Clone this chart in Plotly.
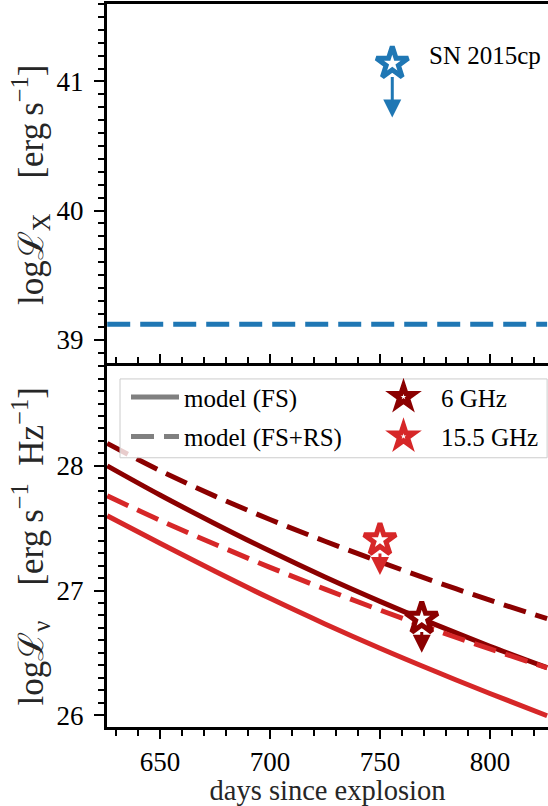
import plotly.graph_objects as go
from plotly.subplots import make_subplots

# ---- model light curves (days since explosion) ----
model_days = [626, 650, 675, 700, 725, 750, 775, 800, 826]

# X-ray luminosity of the FS+RS model, log L_X [erg/s]
xray_fsrs = [39.12, 39.12, 39.12, 39.12, 39.12, 39.12, 39.12, 39.12, 39.12]

# radio spectral luminosity, log L_nu [erg/s/Hz]
fs_6ghz = [28.00, 27.766, 27.536, 27.316, 27.108, 26.913, 26.728, 26.553, 26.381]
fsrs_6ghz = [28.18, 27.962, 27.757, 27.57, 27.395, 27.23, 27.072, 26.922, 26.774]
fs_15ghz = [27.60, 27.379, 27.154, 26.937, 26.732, 26.537, 26.352, 26.174, 25.995]
fsrs_15ghz = [27.76, 27.563, 27.371, 27.186, 27.011, 26.843, 26.683, 26.531, 26.380]

# ---- SN 2015cp upper limits (value, and where the limit arrow ends) ----
xray_day = [755.6]
xray_limit = [41.14]
xray_arrow_end = [40.72]

radio6_day = [769.0]
radio6_limit = [26.775]
radio6_arrow_end = [26.50]

radio15_day = [750.0]
radio15_limit = [27.405]
radio15_arrow_end = [27.125]

BLUE = "#1f77b4"
DARKRED = "#8b0000"
RED = "#d62728"
GREY = "#808080"
DASH = "23px,10px"
SERIF = "Liberation Serif"
STAR = dict(symbol="star", size=24, color="white")

fig = make_subplots(rows=2, cols=1, shared_xaxes=True, vertical_spacing=0)

# top panel: X-ray
fig.add_trace(go.Scatter(x=model_days, y=xray_fsrs, mode="lines",
                         line=dict(color=BLUE, width=5, dash=DASH),
                         showlegend=False, hoverinfo="skip"), row=1, col=1)
fig.add_trace(go.Scatter(x=xray_day, y=xray_limit, mode="markers",
                         marker=dict(**STAR, line=dict(color=BLUE, width=5)),
                         showlegend=False), row=1, col=1)

# bottom panel: radio models
for ys, col, dash in [(fs_6ghz, DARKRED, "solid"), (fsrs_6ghz, DARKRED, DASH),
                      (fs_15ghz, RED, "solid"), (fsrs_15ghz, RED, DASH)]:
    fig.add_trace(go.Scatter(x=model_days, y=ys, mode="lines", line_shape="spline",
                             line=dict(color=col, width=5, dash=dash),
                             showlegend=False, hoverinfo="skip"), row=2, col=1)

# legend-only entries for the model line styles
fig.add_trace(go.Scatter(x=[None], y=[None], mode="lines", name="model (FS)",
                         line=dict(color=GREY, width=5), legend="legend",
                         legendgroup="fs"), row=2, col=1)
fig.add_trace(go.Scatter(x=[None], y=[None], mode="lines", name="model (FS+RS)",
                         line=dict(color=GREY, width=5, dash=DASH), legend="legend",
                         legendgroup="fsrs"), row=2, col=1)

# radio upper limits
fig.add_trace(go.Scatter(x=radio6_day, y=radio6_limit, mode="markers", name="6 GHz",
                         marker=dict(**STAR, line=dict(color=DARKRED, width=5)),
                         legend="legend2", legendgroup="r6"), row=2, col=1)
fig.add_trace(go.Scatter(x=radio15_day, y=radio15_limit, mode="markers", name="15.5 GHz",
                         marker=dict(**STAR, line=dict(color=RED, width=5)),
                         legend="legend2", legendgroup="r15"), row=2, col=1)

# downward arrows marking the upper limits
arrows = [("x", "y", xray_day, xray_limit, xray_arrow_end, BLUE),
          ("x2", "y2", radio6_day, radio6_limit, radio6_arrow_end, DARKRED),
          ("x2", "y2", radio15_day, radio15_limit, radio15_arrow_end, RED)]
for xr, yr, xs, ys, ye, col in arrows:
    for xv, y0, y1 in zip(xs, ys, ye):
        fig.add_annotation(x=xv, y=y1, ax=xv, ay=y0, xref=xr, yref=yr, axref=xr, ayref=yr,
                           text="", showarrow=True, arrowhead=2, arrowsize=1.2,
                           arrowwidth=3, arrowcolor=col, startstandoff=12)

fig.add_annotation(x=771.5, y=41.2, xref="x", yref="y", text="SN 2015cp", showarrow=False,
                   xanchor="left", yanchor="middle",
                   font=dict(family=SERIF, size=25, color="black"))

# legend frame
fig.add_shape(type="rect", xref="paper", yref="paper", x0=0.0295, x1=0.998, y0=0.3724, y1=0.4814,
              line=dict(color="#cccccc", width=1), fillcolor="rgba(255,255,255,0.8)", layer="above")

tickfont = dict(family=SERIF, size=27, color="black")
axis_common = dict(showline=True, linewidth=3, linecolor="black", showgrid=False, zeroline=False,
                   ticks="outside", tickcolor="black", tickwidth=2.3, tickfont=tickfont)

fig.update_xaxes(range=[625.9, 826.4], tick0=650, dtick=50, **axis_common)
# top panel: frame line along its top edge only, no ticks
fig.update_xaxes(row=1, col=1, side="top", mirror=False, ticks="", showticklabels=False)
fig.update_xaxes(row=2, col=1, mirror="allticks", ticklen=9,
                 minor=dict(dtick=10, ticks="outside", ticklen=6, tickwidth=1.8, tickcolor="black"),
                 title=dict(text="days since explosion", standoff=9,
                            font=dict(family=SERIF, size=28.5, color="#262626")))

fig.update_yaxes(mirror=False, ticklen=10, dtick=1, ticklabelstandoff=5,
                 minor=dict(dtick=0.1, ticks="outside", ticklen=6.5, tickwidth=1.8, tickcolor="black"),
                 **axis_common)
fig.update_yaxes(row=1, col=1, range=[38.8, 41.6], tick0=39,
                 title=dict(text="logℒ<sub>X</sub>\u2003[erg\u2009s<sup>−1</sup>]", standoff=3,
                            font=dict(family=SERIF, size=35, color="#262626")))
fig.update_yaxes(row=2, col=1, range=[25.905, 28.805], tick0=26,
                 title=dict(text="logℒ<sub>ν</sub>\u2003[erg\u2009s<sup>−1</sup>\u2002Hz<sup>−1</sup>]",
                            standoff=3, font=dict(family=SERIF, size=35, color="#262626")))

legend_common = dict(xanchor="left", yanchor="top", bgcolor="rgba(0,0,0,0)", borderwidth=0,
                     tracegroupgap=4, font=dict(family=SERIF, size=25, color="black"))
fig.update_layout(
    width=548, height=806,
    margin=dict(l=107, r=0, t=4, b=77),
    plot_bgcolor="white", paper_bgcolor="white",
    font=dict(family=SERIF, size=27, color="black"),
    legend=dict(x=(126 - 107) / 441, y=0.488, itemwidth=48, **legend_common),
    legend2=dict(x=(366 - 107) / 441, y=0.488, itemwidth=65, **legend_common),
)

fig.write_html("out.html")
